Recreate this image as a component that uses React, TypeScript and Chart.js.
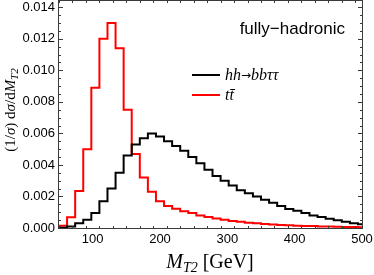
import React, { useEffect, useRef } from "react";
import { Chart, registerables } from "chart.js";
Chart.register(...registerables);

// Histogram bins (left edges, GeV) and the upper end of the last bin
const binEdges = [50, 62, 74, 86, 98, 110, 122, 134, 146, 158, 170, 182, 194, 206, 218, 230, 242, 254, 266, 278, 290, 302, 314, 326, 338, 350, 362, 374, 386, 398, 410, 422, 434, 446, 458, 470, 482, 494];
const binEnd = 500;

// hh -> bb tau tau (black)
const hhValues = [0.00001, 0.0001, 0.0003, 0.00053, 0.00095, 0.0017, 0.0025, 0.0035, 0.0046, 0.0053, 0.0057, 0.006, 0.0058, 0.0055, 0.0052, 0.0049, 0.0045, 0.0041, 0.0037, 0.0033, 0.003, 0.0027, 0.0024, 0.0022, 0.002, 0.0018, 0.0016, 0.0014, 0.0012, 0.0011, 0.00095, 0.0008, 0.0007, 0.00058, 0.00049, 0.00039, 0.0003, 0.00023];

// t tbar (red)
const ttValues = [0.00015, 0.00068, 0.00235, 0.005, 0.0089, 0.012, 0.013, 0.0114, 0.0075, 0.0047, 0.0032, 0.0023, 0.0017, 0.0014, 0.00122, 0.00107, 0.00095, 0.0008, 0.0007, 0.0006, 0.00053, 0.00045, 0.0004, 0.00034, 0.0003, 0.00026, 0.00022, 0.00019, 0.00017, 0.00015, 0.00013, 0.00012, 0.0001, 0.00009, 0.00008, 0.00007, 0.00006, 0.00005];

const xTicks = [100, 200, 300, 400, 500];
const yTicks = [0, 0.002, 0.004, 0.006, 0.008, 0.01, 0.012, 0.014];
const xMinorStep = 20;
const yMinorStep = 0.0005;
const xRange = [50, 500];
const yRange = [0, 0.0144];
const seriesNames = ["hh\u2192bb\u03C4\u03C4", "t", "t\u0304"];
const annotation = "fully\u2212hadronic";

function steps(values: number[]) {
  const pts = binEdges.map((x, i) => ({ x, y: values[i] }));
  pts.push({ x: binEnd, y: values[values.length - 1] });
  return pts;
}

type Seg = { t: string; f: string; dy?: number };
function drawRich(ctx: CanvasRenderingContext2D, x: number, y: number, segs: Seg[], align: "left" | "center" | "right") {
  const widths = segs.map((s) => {
    ctx.font = s.f;
    return ctx.measureText(s.t).width;
  });
  const total = widths.reduce((a, b) => a + b, 0);
  let cx = align === "center" ? x - total / 2 : align === "right" ? x - total : x;
  ctx.textAlign = "left";
  ctx.textBaseline = "alphabetic";
  segs.forEach((s, i) => {
    ctx.font = s.f;
    ctx.fillText(s.t, cx, y + (s.dy || 0));
    cx += widths[i];
  });
}

const decorPlugin = {
  id: "decor",
  afterDraw(chart: any) {
    const ctx: CanvasRenderingContext2D = chart.ctx;
    const { left, right, top, bottom } = chart.chartArea;
    const xs = chart.scales.x;
    const ys = chart.scales.y;
    ctx.save();
    ctx.strokeStyle = "#3a3a3a";
    ctx.lineWidth = 1;
    const L = Math.round(left) - 0.5;
    const R = Math.round(right) + 0.5;
    const T = Math.round(top) - 0.5;
    const B = Math.round(bottom) + 0.5;
    ctx.strokeRect(L, T, R - L, B - T);
    ctx.beginPath();
    const major = 4.5;
    const minor = 2.5;
    for (let v = xRange[0]; v <= xRange[1] + 1e-9; v += xMinorStep) {
      const px = Math.round(xs.getPixelForValue(v)) + 0.5;
      const len = xTicks.includes(v) ? major : minor;
      ctx.moveTo(px, B);
      ctx.lineTo(px, B - len);
      ctx.moveTo(px, T);
      ctx.lineTo(px, T + len);
    }
    for (let k = 0; k * yMinorStep <= yRange[1] + 1e-12; k++) {
      const v = k * yMinorStep;
      const py = Math.round(ys.getPixelForValue(v)) + 0.5;
      const len = k % 4 === 0 ? major : minor;
      ctx.moveTo(L, py);
      ctx.lineTo(L + len, py);
      ctx.moveTo(R, py);
      ctx.lineTo(R - len, py);
    }
    ctx.stroke();

    // legend
    ctx.lineWidth = 2;
    ctx.strokeStyle = "#000";
    ctx.beginPath();
    ctx.moveTo(192, 75);
    ctx.lineTo(220, 75);
    ctx.stroke();
    ctx.strokeStyle = "#ff0000";
    ctx.beginPath();
    ctx.moveTo(192, 95);
    ctx.lineTo(220, 95);
    ctx.stroke();
    ctx.fillStyle = "#000";
    const lf = "italic 16px 'Liberation Serif'";
    drawRich(
      ctx,
      225,
      80,
      [
        { t: "hh", f: lf },
        { t: "\u2192", f: "12px 'DejaVu Sans'", dy: -1 },
        { t: "bb\u03C4\u03C4", f: lf },
      ],
      "left"
    );
    drawRich(ctx, 225, 100, [{ t: seriesNames[1] + seriesNames[2], f: lf }], "left");

    // annotation
    drawRich(ctx, 345, 34, [{ t: annotation, f: "17px 'Liberation Sans'" }], "right");

    // x title
    drawRich(
      ctx,
      210,
      268,
      [
        { t: "M", f: "italic 20px 'Liberation Serif'" },
        { t: "T2", f: "italic 14px 'Liberation Serif'", dy: 4 },
        { t: " [GeV]", f: "20px 'Liberation Serif'" },
      ],
      "center"
    );

    // y title
    ctx.translate(15, 110);
    ctx.rotate(-Math.PI / 2);
    const r = "15px 'Liberation Serif'";
    const it = "italic 15px 'Liberation Serif'";
    drawRich(
      ctx,
      0,
      0,
      [
        { t: "(1/", f: r },
        { t: "\u03C3", f: it },
        { t: ") d", f: r },
        { t: "\u03C3", f: it },
        { t: "/d", f: r },
        { t: "M", f: it },
        { t: "T2", f: "italic 11px 'Liberation Serif'", dy: 3 },
      ],
      "center"
    );
    ctx.restore();
  },
};

export default function App() {
  const ref = useRef<HTMLCanvasElement | null>(null);
  useEffect(() => {
    if (!ref.current) return;
    const chart = new Chart(ref.current, {
      type: "line",
      data: {
        datasets: [
          {
            label: seriesNames[0],
            data: steps(hhValues),
            borderColor: "#000000",
            borderWidth: 2,
            stepped: "before",
            pointRadius: 0,
            fill: false,
          },
          {
            label: seriesNames[1] + seriesNames[2],
            data: steps(ttValues),
            borderColor: "#ff0000",
            borderWidth: 2,
            stepped: "before",
            pointRadius: 0,
            fill: false,
          },
        ],
      },
      options: {
        animation: false,
        responsive: false,
        layout: { padding: { top: 1, right: 12, left: 0, bottom: 0 } },
        plugins: { legend: { display: false }, tooltip: { enabled: false }, title: { display: false } },
        scales: {
          x: {
            type: "linear",
            min: xRange[0],
            max: xRange[1],
            grid: { display: false, drawTicks: false },
            border: { display: false },
            afterBuildTicks: (s: any) => {
              s.ticks = xTicks.map((v) => ({ value: v }));
            },
            afterFit: (s: any) => {
              s.height = 47;
              s.paddingLeft = 0;
              s.paddingRight = 0;
            },
            ticks: {
              autoSkip: false,
              maxRotation: 0,
              padding: 4,
              color: "#000",
              font: { family: "'Liberation Sans'", size: 13 },
              callback: (v: any) => String(v),
            },
          },
          y: {
            type: "linear",
            min: yRange[0],
            max: yRange[1],
            grid: { display: false, drawTicks: false },
            border: { display: false },
            afterBuildTicks: (s: any) => {
              s.ticks = yTicks.map((v) => ({ value: v }));
            },
            afterFit: (s: any) => {
              s.width = 59;
              s.paddingTop = 0;
              s.paddingBottom = 0;
            },
            ticks: {
              autoSkip: false,
              padding: 4,
              color: "#000",
              font: { family: "'Liberation Sans'", size: 13 },
              callback: (v: any) => Number(v).toFixed(3),
            },
          },
        },
      },
      plugins: [decorPlugin],
    });
    return () => chart.destroy();
  }, []);
  return (
    <div style={{ position: "absolute", left: 0, top: 0, width: 374, height: 275, background: "#fff" }}>
      <canvas ref={ref} width={374} height={275} />
    </div>
  );
}
